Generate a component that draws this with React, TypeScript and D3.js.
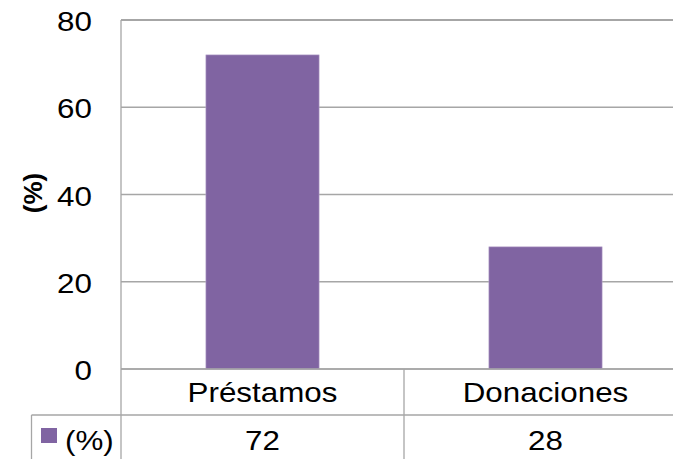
import React from "react";
import * as d3 from "d3";

const categories = ["Préstamos", "Donaciones"];
const values = [72, 28];
const seriesName = "(%)";
const yTicks = [0, 20, 40, 60, 80];
const yLabel = "(%)";

const W = 673;
const H = 459;
const SX = 1.12;
const FONT = "'Liberation Sans', Arial, sans-serif";

export default function App() {
  const plotLeft = 121;
  const plotTop = 20;
  const plotBottom = 369;
  const rowLine = 415;
  const tableLeft = 31.5;

  const x = d3
    .scaleBand<string>()
    .domain(categories)
    .range([plotLeft, plotLeft + 283 * categories.length])
    .paddingInner(0)
    .paddingOuter(0);
  const y = d3.scaleLinear().domain([0, 80]).range([plotBottom, plotTop]);
  const barW = x.bandwidth() * 0.4;
  const grid = "#a6a6a6";

  const txt = (s: string, cx: number, by: number, anchor: string, size = 28, weight = "normal", key?: any) => (
    <g key={key} transform={`translate(${cx},${by}) scale(${SX},1)`}>
      <text x={0} y={0} textAnchor={anchor as any} fontSize={size} fontWeight={weight} fontFamily={FONT} fill="#000">
        {s}
      </text>
    </g>
  );

  return (
    <svg
      width={W}
      height={H}
      style={{ position: "fixed", left: 0, top: 0, background: "#fff" }}
    >
      <rect x={0} y={0} width={W} height={H} fill="#fff" />
      {/* gridlines */}
      {yTicks.map((t) => (
        <line
          key={"g" + t}
          x1={plotLeft}
          x2={W}
          y1={y(t)}
          y2={y(t)}
          stroke={grid}
          strokeWidth={t === 80 ? 1.8 : 1.3}
        />
      ))}
      {/* bars */}
      {categories.map((c, i) => (
        <rect
          key={"b" + c}
          x={(x(c) as number) + (x.bandwidth() - barW) / 2}
          y={y(values[i])}
          width={barW}
          height={y(0) - y(values[i])}
          fill="#8064a2"
          stroke="#b8a6cc"
          strokeWidth={0.6}
        />
      ))}
      {/* axis & table lines */}
      <line x1={plotLeft} x2={plotLeft} y1={plotTop} y2={H} stroke={grid} strokeWidth={1.3} />
      <line x1={plotLeft} x2={W} y1={plotBottom} y2={plotBottom} stroke={grid} strokeWidth={1.3} />
      {categories.slice(1).map((c) => (
        <line key={"d" + c} x1={x(c) as number} x2={x(c) as number} y1={plotBottom} y2={H} stroke={grid} strokeWidth={1.3} />
      ))}
      <line x1={tableLeft} x2={W} y1={rowLine} y2={rowLine} stroke={grid} strokeWidth={1.3} />
      <line x1={tableLeft} x2={tableLeft} y1={rowLine} y2={H} stroke={grid} strokeWidth={1.3} />

      {/* y tick labels */}
      {yTicks.map((t) => txt(String(t), 92, y(t) + 11, "end", 28, "normal", "t" + t))}

      {/* y axis title */}
      <text
        transform={`translate(42,193) rotate(-90)`}
        textAnchor="middle"
        fontSize={26}
        fontWeight="bold"
        fontFamily={FONT}
        fill="#000"
      >
        {yLabel}
      </text>

      {/* category labels */}
      {categories.map((c) =>
        txt(c, (x(c) as number) + x.bandwidth() / 2, 402, "middle", 28, "normal", "c" + c)
      )}

      {/* data table row */}
      <rect x={41} y={428} width={16} height={15} fill="#8064a2" />
      {txt(seriesName, 65, 450, "start", 28, "normal", "sn")}
      {categories.map((c, i) =>
        txt(String(values[i]), (x(c) as number) + x.bandwidth() / 2, 450, "middle", 28, "normal", "v" + c)
      )}
    </svg>
  );
}
